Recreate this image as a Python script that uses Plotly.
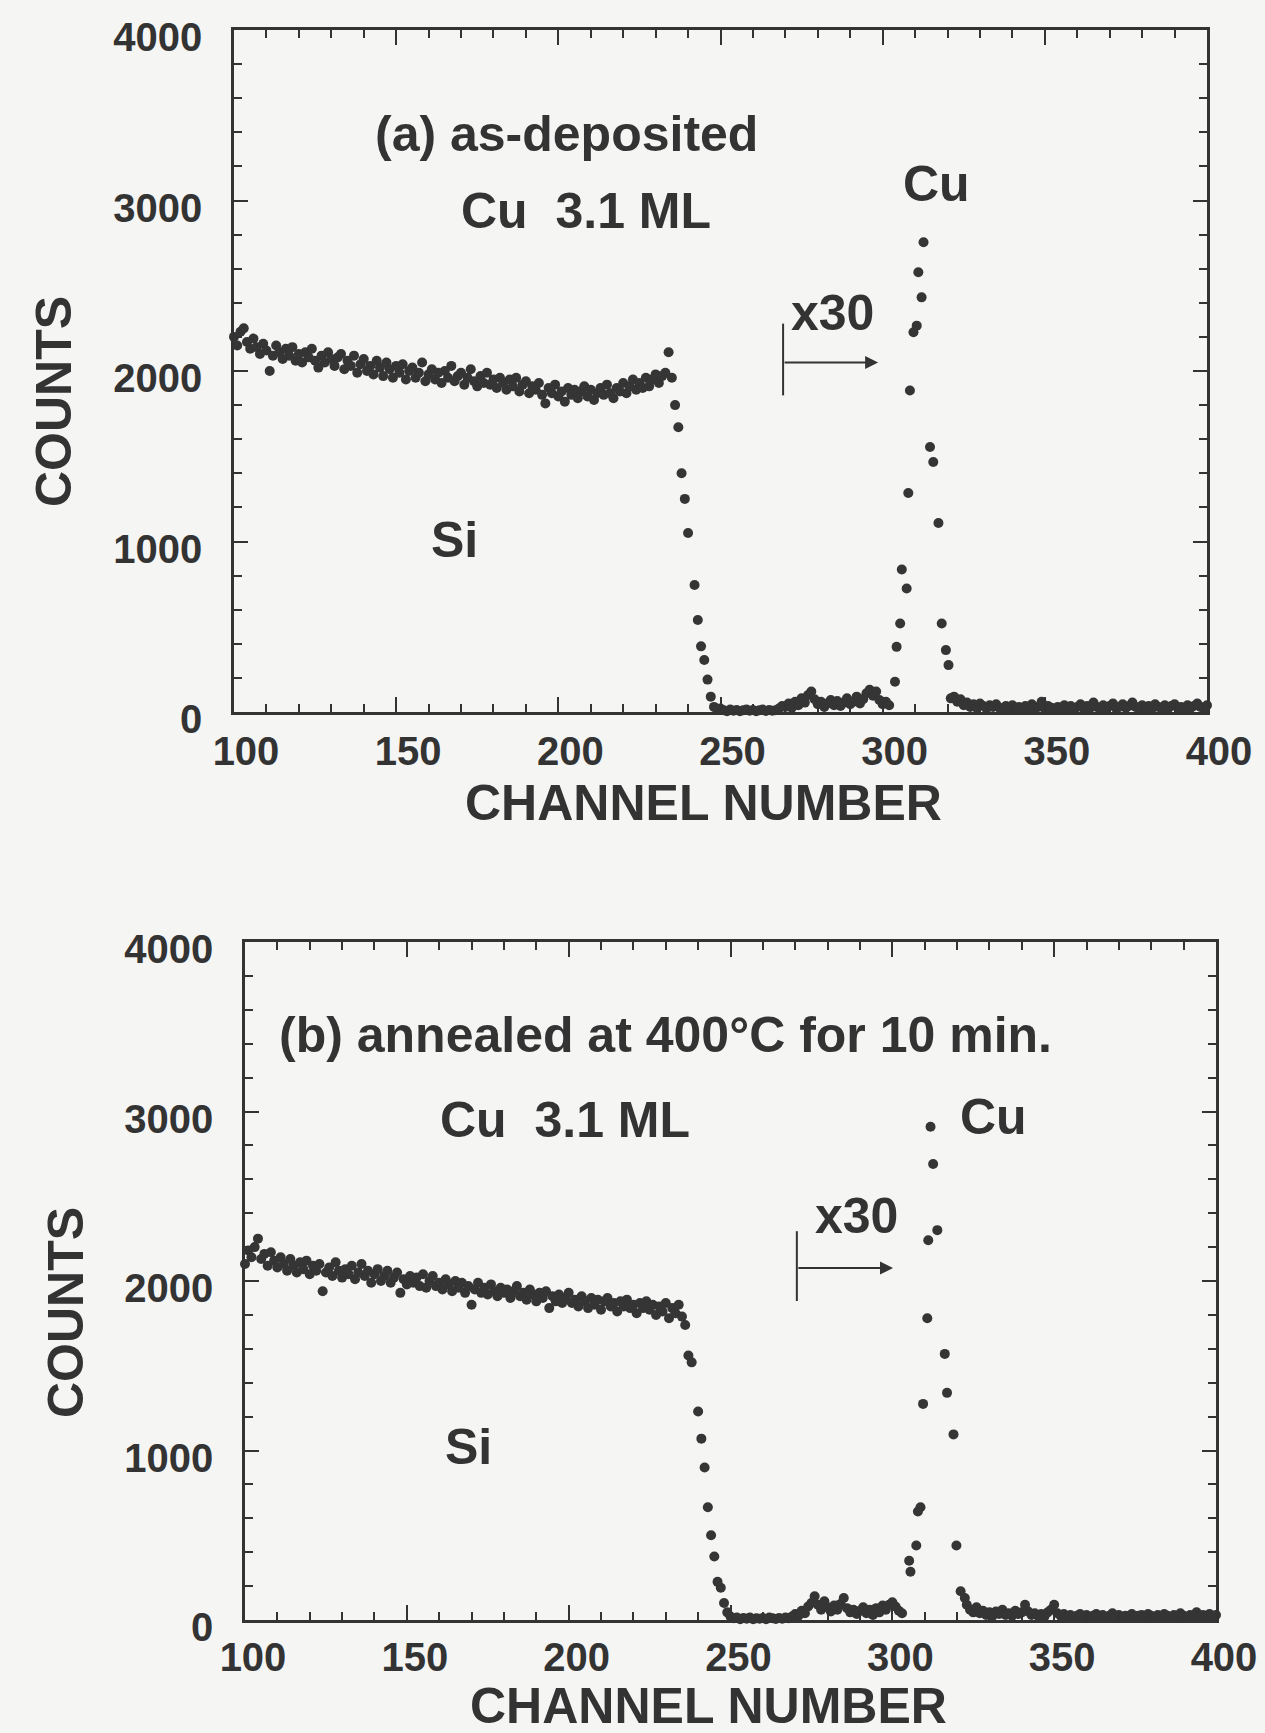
import plotly.graph_objects as go

# ---------------- data ----------------
# Panel (a) as-deposited
A_SI_CH = list(range(100, 234))
A_SI_COUNTS = [
    2200, 2150, 2230, 2250, 2170, 2130, 2190, 2140, 2100, 2160,
    2120, 2000, 2090, 2150, 2110, 2070, 2130, 2090, 2140, 2060,
    2100, 2050, 2110, 2080, 2130, 2060, 2020, 2090, 2050, 2110,
    2070, 2030, 2080, 2100, 2010, 2060, 2030, 2090, 1990, 2040,
    2070, 2000, 2030, 1980, 2060, 2020, 1970, 2050, 2010, 1960,
    2030, 1990, 2040, 1950, 2000, 2020, 1960, 1990, 2050, 1940,
    1980, 2010, 1950, 1990, 1930, 2000, 1960, 2030, 1940, 1970,
    1990, 1920, 1960, 2010, 1940, 1910, 1970, 1930, 1990, 1920,
    1950, 1900, 1960, 1930, 1890, 1950, 1910, 1960, 1880, 1920,
    1940, 1870, 1910, 1890, 1930, 1860, 1810, 1900, 1870, 1920,
    1850, 1880, 1820, 1900, 1860, 1890, 1840, 1880, 1910, 1850,
    1890, 1830, 1870, 1900, 1860, 1920, 1870, 1840, 1900, 1880,
    1930, 1870, 1910, 1950, 1890, 1930, 1900, 1960, 1910, 1950,
    1980, 1930, 1970, 1990,
]
A_EDGE_CH = [234, 235, 236, 237, 238, 239, 240, 242, 243, 244, 245, 246, 247]
A_EDGE_COUNTS = [2110, 1960, 1800, 1670, 1400, 1250, 1050, 745, 540, 385, 305, 190, 90]
A_LOW_CH = list(range(248, 303))
A_LOW_COUNTS = [
    30, 15, 20, 10, 5, 15, 8, 12, 5, 10,
    15, 8, 12, 5, 10, 15, 6, 12, 8, 10,
    20, 35, 30, 50, 25, 60, 40, 80, 55, 100,
    120, 75, 45, 60, 30, 50, 70, 40, 65, 35,
    55, 80, 45, 60, 90, 50, 75, 110, 130, 95,
    120, 70, 45, 60, 40,
]
A_PEAK_CH = [303.8, 304.3, 305.4, 305.9, 307.4, 307.9, 308.4, 309.5, 310.5, 311.0,
             312.0, 312.6, 314.6, 315.6, 317.2, 318.2, 319.5, 320.3]
A_PEAK_COUNTS = [177, 382, 519, 836, 724, 1284, 1886, 2227, 2266, 2579,
                 2432, 2755, 1554, 1466, 1109, 519, 363, 275]
A_TAIL_CH = list(range(321, 401))
A_TAIL_COUNTS = [
    80, 90, 60, 75, 40, 55, 30, 45, 25, 50,
    35, 20, 40, 30, 45, 25, 15, 35, 20, 40,
    25, 30, 15, 35, 20, 45, 25, 30, 60, 20,
    35, 25, 15, 30, 20, 40, 25, 35, 15, 30,
    45, 20, 35, 25, 55, 30, 20, 40, 25, 35,
    50, 20, 30, 45, 25, 35, 55, 30, 20, 40,
    25, 35, 20, 45, 30, 25, 40, 20, 35, 45,
    25, 30, 20, 40, 25, 35, 50, 30, 25, 40,
]

# Panel (b) annealed at 400 C for 10 min
B_SI_CH = list(range(100, 236))
B_SI_COUNTS = [
    2100, 2180, 2140, 2200, 2250, 2130, 2160, 2090, 2170, 2120,
    2080, 2140, 2100, 2060, 2130, 2090, 2050, 2110, 2070, 2120,
    2040, 2090, 2060, 2100, 1940, 2050, 2080, 2030, 2110, 2060,
    2020, 2070, 2040, 2090, 2010, 2050, 2100, 2030, 2060, 1990,
    2040, 2070, 2000, 2030, 2060, 1990, 2020, 2050, 1930, 2010,
    1980, 2030, 1990, 2020, 1970, 2040, 1960, 2000, 2030, 1970,
    1990, 1950, 2010, 1980, 1940, 2000, 1960, 1990, 1930, 1970,
    1860, 1950, 1990, 1930, 1960, 1920, 1980, 1940, 1910, 1960,
    1930, 1950, 1900, 1940, 1970, 1910, 1930, 1890, 1950, 1920,
    1880, 1930, 1900, 1940, 1840, 1910, 1880, 1920, 1870, 1900,
    1930, 1870, 1890, 1850, 1910, 1880, 1840, 1900, 1860, 1890,
    1830, 1880, 1900, 1850, 1870, 1820, 1880, 1850, 1890, 1840,
    1860, 1810, 1870, 1840, 1880, 1830, 1860, 1800, 1850, 1820,
    1870, 1780, 1840, 1810, 1860, 1790,
]
B_EDGE_CH = [236, 237, 238, 240, 241, 242, 243, 244, 245, 246, 247, 248]
B_EDGE_COUNTS = [1740, 1560, 1520, 1230, 1070, 900, 665, 500, 375, 225, 190, 100]
B_LOW_CH = list(range(249, 304))
B_LOW_COUNTS = [
    45, 20, 10, 15, 5, 12, 8, 15, 5, 10,
    8, 12, 5, 15, 10, 6, 12, 8, 15, 10,
    20, 35, 25, 55, 40, 80, 100, 140, 90, 60,
    110, 75, 50, 85, 60, 95, 130, 70, 45, 60,
    35, 55, 75, 40, 60, 30, 70, 45, 85, 60,
    90, 105, 80, 55, 40,
]
B_PEAK_CH = [305.2, 305.6, 307.4, 307.9, 308.7, 309.5, 310.8, 311.1, 311.8, 312.6,
             313.9, 316.2, 316.9, 318.9, 319.8, 321.1, 322.4]
B_PEAK_COUNTS = [350, 285, 440, 640, 665, 1275, 1780, 2240, 2910, 2690,
                 2300, 1570, 1340, 1095, 440, 170, 130]
B_TAIL_CH = list(range(323, 401))
B_TAIL_COUNTS = [
    90, 60, 45, 75, 40, 55, 30, 45, 25, 50,
    35, 60, 30, 40, 25, 55, 35, 45, 90, 50,
    30, 40, 25, 35, 20, 45, 60, 90, 40, 25,
    35, 20, 30, 15, 25, 35, 20, 30, 15, 25,
    35, 20, 30, 15, 25, 40, 20, 30, 15, 25,
    20, 35, 15, 25, 30, 20, 35, 25, 15, 30,
    20, 35, 25, 15, 30, 20, 40, 25, 15, 30,
    20, 45, 25, 30, 20, 35, 25, 30,
]

X_TICKS = [100, 150, 200, 250, 300, 350, 400]
Y_TICKS = [0, 1000, 2000, 3000, 4000]

# ---------------- styling ----------------
W, H = 1265, 1733
BG = "#f5f5f3"
INK = "#333333"
DOT = "#353535"
FONT = "Liberation Sans, Arial, sans-serif"


def dom_x(l, r):
    return [l / W, r / W]


def dom_y(top, bottom):
    return [1 - bottom / H, 1 - top / H]


a_x = A_SI_CH + A_EDGE_CH + A_LOW_CH + A_PEAK_CH + A_TAIL_CH
a_y = A_SI_COUNTS + A_EDGE_COUNTS + A_LOW_COUNTS + A_PEAK_COUNTS + A_TAIL_COUNTS
b_x = B_SI_CH + B_EDGE_CH + B_LOW_CH + B_PEAK_CH + B_TAIL_CH
b_y = B_SI_COUNTS + B_EDGE_COUNTS + B_LOW_COUNTS + B_PEAK_COUNTS + B_TAIL_COUNTS

fig = go.Figure()
marker = dict(size=10, color=DOT)
fig.add_trace(go.Scatter(x=a_x, y=a_y, mode="markers", marker=marker,
                         xaxis="x", yaxis="y", showlegend=False,
                         cliponaxis=False, hoverinfo="skip"))
fig.add_trace(go.Scatter(x=b_x, y=b_y, mode="markers", marker=marker,
                         xaxis="x2", yaxis="y2", showlegend=False,
                         cliponaxis=False, hoverinfo="skip"))

tickfont = dict(family=FONT, size=40, color=INK, weight="bold")


def xaxis(domain, anchor, shift, standoff):
    return dict(domain=domain, anchor=anchor, range=[100, 400], automargin=False,
                tickvals=X_TICKS, ticks="inside", ticklen=15, tickwidth=2,
                tickcolor=INK, showline=True, linewidth=2.5, linecolor=INK,
                mirror="ticks", showgrid=False, zeroline=False,
                tickfont=tickfont, ticklabelstandoff=standoff,
                ticklabelshift=shift,
                minor=dict(dtick=10, ticks="inside", ticklen=8, tickwidth=2,
                           tickcolor=INK, showgrid=False))


def yaxis(domain, anchor):
    return dict(domain=domain, anchor=anchor, range=[0, 4000], automargin=False,
                tickvals=Y_TICKS, ticks="inside", ticklen=14, tickwidth=2,
                tickcolor=INK, showline=True, linewidth=2.5, linecolor=INK,
                mirror="ticks", showgrid=False, zeroline=False,
                tickfont=tickfont, ticklabelstandoff=21, ticklabelshift=7,
                minor=dict(dtick=200, ticks="inside", ticklen=8, tickwidth=2,
                           tickcolor=INK, showgrid=False))


fig.update_layout(
    width=W, height=H,
    margin=dict(l=0, r=0, t=0, b=0, autoexpand=False),
    paper_bgcolor=BG, plot_bgcolor=BG, showlegend=False,
    font=dict(family=FONT, color=INK),
    xaxis=xaxis(dom_x(234, 1207), "y", 12, 2),
    yaxis=yaxis(dom_y(30, 712), "x"),
    xaxis2=xaxis(dom_x(245, 1216), "y2", 8, 0),
    yaxis2=yaxis(dom_y(942, 1620), "x2"),
)

bold50 = dict(family=FONT, size=50, color=INK, weight="bold")


def label(text, x, y, xr, yr, font, angle=0):
    fig.add_annotation(text=text, x=x, y=y, xref=xr, yref=yr, showarrow=False,
                       xanchor="center", yanchor="middle", font=font,
                       textangle=angle)


# axis titles (paper coordinates)
label("CHANNEL NUMBER", 703 / W, 1 - 803 / H, "paper", "paper", bold50)
label("COUNTS", 54 / W, 1 - 402 / H, "paper", "paper", bold50, -90)
label("CHANNEL NUMBER", 708 / W, 1 - 1706 / H, "paper", "paper", bold50)
label("COUNTS", 66 / W, 1 - 1313 / H, "paper", "paper", bold50, -90)

# panel (a) labels
label("(a) as-deposited", 202.4, 3391, "x", "y", bold50)
label("Cu  3.1 ML", 208.5, 2940, "x", "y", bold50)
label("Cu", 316.5, 3098, "x", "y", bold50)
label("x30", 284.4, 2343, "x", "y", bold50)
label("Si", 168.1, 1007, "x", "y", bold50)
# panel (b) labels
label("(b) annealed at 400°C for 10 min.", 230, 3453, "x2", "y2", bold50)
label("Cu  3.1 ML", 198.9, 2947, "x2", "y2", bold50)
label("Cu", 331.4, 2970, "x2", "y2", bold50)
label("x30", 288.8, 2382, "x2", "y2", bold50)
label("Si", 169.2, 1018, "x2", "y2", bold50)

# x30 markers: vertical bar + arrow
for xr, yr, x0, y0, y1, ya, x1 in [("x", "y", 269.3, 1857, 2278, 2050, 298.6),
                                    ("x2", "y2", 270.5, 1882, 2294, 2076, 300.2)]:
    fig.add_shape(type="line", xref=xr, yref=yr, x0=x0, x1=x0, y0=y0, y1=y1,
                  line=dict(color=INK, width=2))
    fig.add_annotation(x=x1, y=ya, ax=x0, ay=ya, xref=xr, yref=yr,
                       axref=xr, ayref=yr, text="", showarrow=True,
                       arrowhead=2, arrowsize=1.3, arrowwidth=2,
                       arrowcolor=INK)

fig.write_html("out.html")
